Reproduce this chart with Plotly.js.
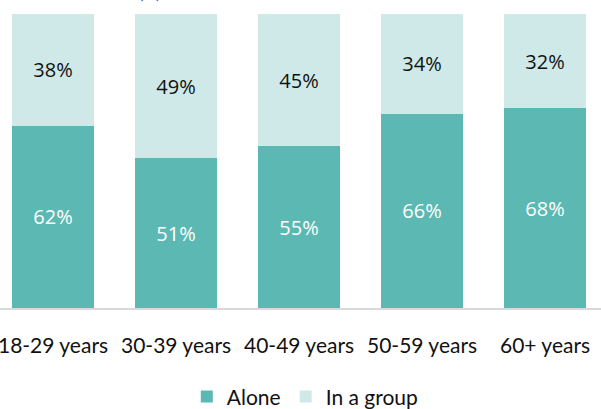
<!DOCTYPE html>
<html>
<head>
<meta charset="utf-8">
<script src="https://cdn.plot.ly/plotly-3.0.1.min.js"></script>
<style>
html,body{margin:0;padding:0;background:#fff;}
#chart{width:601px;height:409px;}
</style>
</head>
<body>
<div id="chart"></div>
<script>
var categories = ['18-29 years', '30-39 years', '40-49 years', '50-59 years', '60+ years'];
var alone = [62, 51, 55, 66, 68];
var inGroup = [38, 49, 45, 34, 32];
var seriesNames = ['Alone', 'In a group'];

var darkTeal = '#5cb8b2';
var lightTeal = '#cfe9e8';
var labelFont = 'Open Sans, Noto Sans, sans-serif';
var axisFont = 'Lato, Open Sans, sans-serif';

var traces = [
  {
    type: 'bar', name: seriesNames[0], x: categories, y: alone,
    text: alone.map(function(v){return v + '%';}),
    textposition: 'inside', insidetextanchor: 'middle',
    textfont: {family: labelFont, size: 20, color: '#ffffff'},
    marker: {color: darkTeal}, width: 0.667, hoverinfo: 'none'
  },
  {
    type: 'bar', name: seriesNames[1], x: categories, y: inGroup,
    text: inGroup.map(function(v){return v + '%';}),
    textposition: 'inside', insidetextanchor: 'middle',
    textfont: {family: labelFont, size: 20, color: '#111111'},
    marker: {color: lightTeal}, width: 0.667, hoverinfo: 'none'
  }
];

var layout = {
  width: 601, height: 409,
  margin: {l: 0, r: 0, t: 14, b: 101, pad: 0, autoexpand: false},
  barmode: 'stack',
  paper_bgcolor: '#ffffff', plot_bgcolor: '#ffffff',
  showlegend: true,
  legend: {
    orientation: 'h', x: 0.508, xanchor: 'center', y: -0.302, yanchor: 'middle',
    font: {family: axisFont, size: 21, color: '#111111'},
    itemclick: false, itemdoubleclick: false, traceorder: 'normal'
  },
  xaxis: {
    type: 'category', range: [-0.431, 4.455],
    showline: true, linecolor: '#d9d9d9', linewidth: 1.5,
    showgrid: false, zeroline: false,
    ticks: 'outside', ticklen: 18, tickcolor: 'rgba(0,0,0,0)',
    tickfont: {family: axisFont, size: 21, color: '#111111'},
    fixedrange: true
  },
  yaxis: {
    range: [0, 100], visible: false, showgrid: false, zeroline: false, fixedrange: true
  },
  annotations: [
    {
      xref: 'paper', yref: 'paper', x: 0.248, y: 1.0374, xanchor: 'center', yanchor: 'bottom',
      text: '(%)', showarrow: false, borderpad: 0,
      font: {family: axisFont, size: 16, color: '#2f55d4'}
    }
  ]
};

Plotly.newPlot('chart', traces, layout, {staticPlot: true, displayModeBar: false});
</script>
</body>
</html>
